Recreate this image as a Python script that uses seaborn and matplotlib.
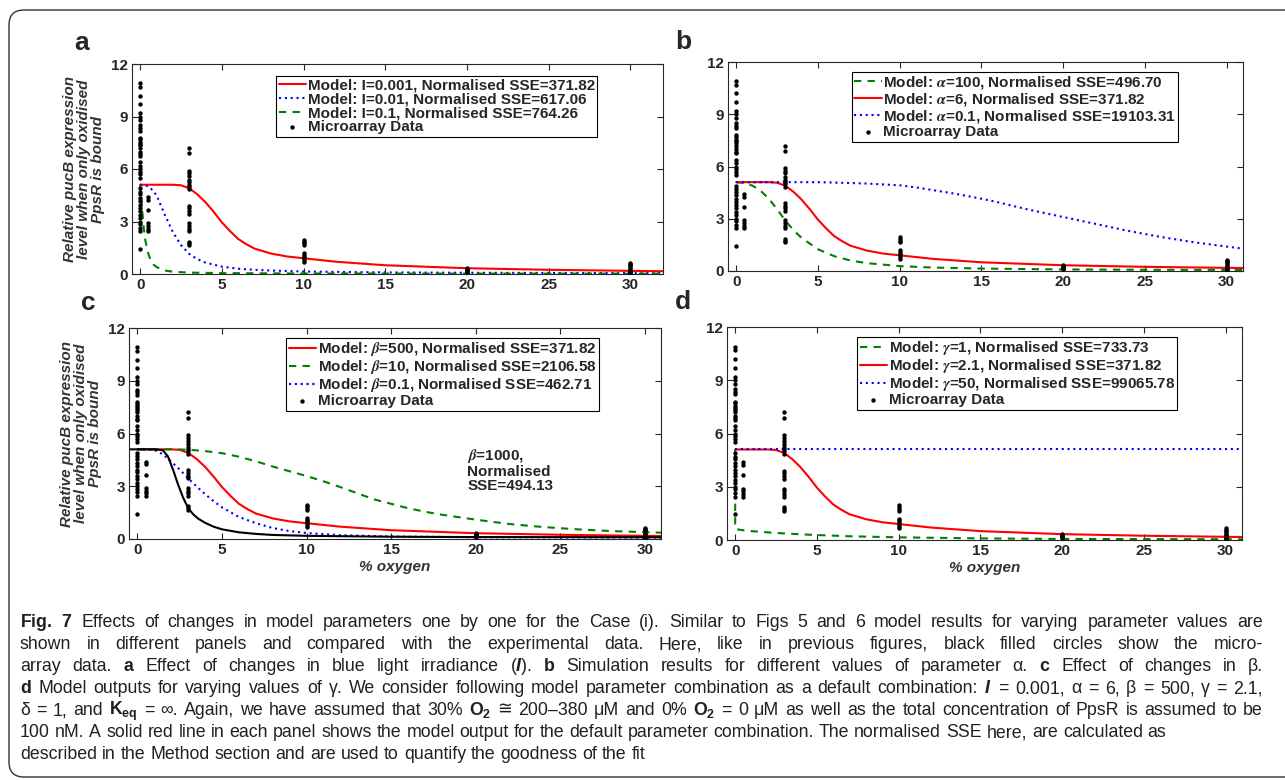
import matplotlib
matplotlib.use('Agg')
import matplotlib.pyplot as plt
import seaborn as sns
from matplotlib.font_manager import FontProperties
from matplotlib.patches import FancyBboxPatch
from matplotlib.transforms import IdentityTransform

# ---- microarray data (% oxygen -> relative pucB expression) ----
data_o0 = [10.9, 10.7, 10.2, 9.7, 9.2, 9.0, 8.8, 8.5, 8.35, 8.2, 7.8, 7.7, 7.55, 7.45, 7.35,
           7.2, 7.0, 6.85, 6.75, 6.4, 6.2, 6.0, 5.85, 5.7, 5.5, 4.9, 4.7, 4.55, 4.35, 4.15,
           3.95, 3.8, 3.6, 3.4, 3.2, 3.0, 2.85, 2.65, 2.45, 1.45]
data_o05 = [4.4, 4.25, 3.65, 2.9, 2.75, 2.6, 2.45]
data_o3 = [7.2, 6.9, 5.9, 5.75, 5.6, 5.4, 5.25, 5.1, 5.0, 4.85, 3.9, 3.75, 3.6, 3.45,
           2.9, 2.75, 2.6, 2.45, 1.85, 1.75, 1.65]
data_o10 = [1.95, 1.85, 1.75, 1.65, 1.2, 1.1, 1.0, 0.9, 0.8, 0.7]
data_o20 = [0.35, 0.3, 0.25, 0.2, 0.15, 0.1]
data_o30 = [0.65, 0.55, 0.5, 0.45, 0.35, 0.3, 0.2, 0.15, 0.1, 0.05, 0.0]

# ---- model curves ----
# default combination (red, shared by every panel)
red_x = [0, 1, 2, 2.5, 3, 3.5, 4, 4.5, 5, 5.5, 6, 6.5, 7, 8, 9, 10, 12, 15, 20, 25, 30, 32]
red_y = [5.1, 5.1, 5.1, 5.07, 4.9, 4.55, 4.1, 3.55, 2.95, 2.45, 2.0, 1.7, 1.45, 1.17, 1.0,
         0.9, 0.7, 0.5, 0.33, 0.24, 0.18, 0.16]

# panel a: I
a_blue_x = [0, 0.3, 0.6, 1.0, 1.5, 2.0, 2.5, 3, 3.5, 4, 5, 6, 7, 8, 10, 15, 20, 30, 32]
a_blue_y = [5.1, 5.08, 4.95, 4.5, 3.4, 2.4, 1.65, 1.15, 0.85, 0.65, 0.42, 0.3, 0.24, 0.2,
            0.14, 0.09, 0.07, 0.05, 0.05]
a_green_x = [0, 0.05, 0.1, 0.2, 0.3, 0.45, 0.6, 0.8, 1.0, 1.5, 2, 3, 5, 10, 20, 32]
a_green_y = [5.1, 4.6, 3.9, 2.8, 2.0, 1.3, 0.9, 0.55, 0.4, 0.2, 0.13, 0.08, 0.05, 0.03,
             0.02, 0.02]

# panel b: alpha
b_green_x = [0, 0.5, 1, 1.5, 2, 2.5, 3, 3.5, 4, 5, 6, 7, 8, 10, 12, 15, 20, 25, 31]
b_green_y = [5.1, 5.05, 4.9, 4.6, 4.15, 3.55, 2.9, 2.35, 1.9, 1.25, 0.85, 0.6, 0.45, 0.28,
             0.2, 0.14, 0.09, 0.07, 0.06]
b_blue_x = [0, 3, 5, 7, 8, 9, 10, 11, 12, 13, 14, 15, 16, 17, 18, 19, 20, 22, 24, 26, 28, 31]
b_blue_y = [5.1, 5.1, 5.1, 5.05, 5.02, 4.97, 4.92, 4.8, 4.65, 4.5, 4.33, 4.15, 3.95, 3.72,
            3.5, 3.3, 3.1, 2.7, 2.3, 1.95, 1.65, 1.28]

# panel c: beta
c_green_x = [0, 2, 3, 4, 5, 6, 7, 8, 9, 10, 11, 12, 13, 14, 15, 16, 17, 18, 20, 22, 24,
             26, 28, 31]
c_green_y = [5.1, 5.1, 5.08, 5.0, 4.88, 4.68, 4.42, 4.12, 3.85, 3.58, 3.28, 2.95, 2.6,
             2.25, 2.0, 1.75, 1.55, 1.38, 1.1, 0.85, 0.68, 0.55, 0.45, 0.36]
c_blue_x = [0, 0.5, 1, 1.5, 2, 2.5, 3, 3.5, 4, 4.5, 5, 6, 7, 8, 9, 10, 12, 15, 20, 31]
c_blue_y = [5.1, 5.1, 5.06, 4.82, 4.4, 3.95, 3.45, 2.98, 2.55, 2.15, 1.8, 1.25, 0.9, 0.62,
            0.45, 0.34, 0.22, 0.14, 0.1, 0.08]
c_black_x = [-0.5, 0, 1, 1.5, 1.8, 2.1, 2.4, 2.7, 3, 3.3, 3.6, 4, 4.5, 5, 6, 7, 8, 10, 15,
             20, 31]
c_black_y = [5.1, 5.1, 5.1, 5.05, 4.7, 3.95, 3.1, 2.35, 1.75, 1.4, 1.15, 0.92, 0.7, 0.55,
             0.38, 0.29, 0.23, 0.18, 0.13, 0.11, 0.1]

# panel d: gamma
d_green_x = [0, 0, 0.1, 0.5, 1, 2, 3, 4, 5, 7, 10, 15, 20, 25, 31]
d_green_y = [5.1, 0.65, 0.6, 0.55, 0.5, 0.43, 0.37, 0.32, 0.28, 0.21, 0.15, 0.09, 0.06,
             0.05, 0.04]
d_blue_x = [0, 31]
d_blue_y = [5.1, 5.1]

# caption, one entry per printed line (first five are justified)
caption_lines = [
    r"$\mathbf{Fig.}$ $\mathbf{7}$ Effects of changes in model parameters one by one for the "
    r"Case (i). Similar to Figs 5 and 6 model results for varying parameter values are",
    "shown in different panels and compared with the experimental data. Here, like in previous "
    "figures, black filled circles show the micro-",
    r"array data. $\mathbf{a}$ Effect of changes in blue light irradiance ($\mathit{I}$). "
    r"$\mathbf{b}$ Simulation results for different values of parameter α. $\mathbf{c}$ "
    r"Effect of changes in β.",
    r"$\mathbf{d}$ Model outputs for varying values of γ. We consider following model parameter "
    r"combination as a default combination: $\mathit{I}$ = 0.001, α = 6, β = 500, γ = 2.1,",
    r"δ = 1, and $\mathrm{K}_{\mathrm{eq}}$ = ∞. Again, we have assumed that 30% "
    r"$\mathrm{O}_{2}$ ≅ 200–380 μM and 0% $\mathrm{O}_{2}$ = 0 μM as well as the total "
    r"concentration of PpsR is assumed to be",
    "100 nM. A solid red line in each panel shows the model output for the default parameter "
    "combination. The normalised SSE here, are calculated as",
    "described in the Method section and are used to quantify the goodness of the fit",
]

RED, BLUE, GREEN, BLACK = '#ff0000', '#0000ff', '#008000', '#000000'
SOLID, DOT, DASH = '-', (0, (1, 1.8)), (0, (3.5, 3))
INK = '#262626'
W, H = 1285, 780

sns.set_style('ticks')
plt.rcParams['font.family'] = ['Liberation Sans', 'DejaVu Sans']
plt.rcParams['font.weight'] = 'bold'
plt.rcParams['mathtext.fontset'] = 'custom'
plt.rcParams['mathtext.rm'] = 'Liberation Sans'
plt.rcParams['mathtext.bf'] = 'Liberation Sans:bold'
plt.rcParams['mathtext.it'] = 'Liberation Sans:italic'

label_font = FontProperties(family='Liberation Sans', weight='bold', size=11,
                            math_fontfamily='stix')

fig = plt.figure(figsize=(W / 100, H / 100), dpi=100)


def px_axes(left, top, right, bottom):
    return fig.add_axes([left / W, 1 - bottom / H, (right - left) / W, (bottom - top) / H])


def draw_panel(ax, curves, xmax, anchor, letter, letter_xy, ylabel=False, xlabel=False,
               extra=()):
    for xs, ys, color, ls, lab in curves:
        sns.lineplot(x=xs, y=ys, ax=ax, color=color, linestyle=ls, linewidth=1.5,
                     label=lab, sort=False, estimator=None, legend=False)
    for xs, ys, color in extra:
        sns.lineplot(x=xs, y=ys, ax=ax, color=color, linewidth=1.5,
                     sort=False, estimator=None, legend=False)
    micro_x = ([0] * len(data_o0) + [0.5] * len(data_o05) + [3] * len(data_o3)
               + [10] * len(data_o10) + [20] * len(data_o20) + [30] * len(data_o30))
    micro_y = data_o0 + data_o05 + data_o3 + data_o10 + data_o20 + data_o30
    sns.scatterplot(x=micro_x, y=micro_y, ax=ax, color='k', s=10, linewidth=0,
                    label='Microarray Data', zorder=3, legend=False)

    ax.set_xlim(-0.5, xmax)
    ax.set_ylim(0, 12)
    ax.set_xticks([0, 5, 10, 15, 20, 25, 30])
    ax.set_yticks([0, 3, 6, 9, 12])
    ax.tick_params(direction='in', top=True, right=True, length=4, width=0.8,
                   color=INK, labelcolor=INK, labelsize=11, pad=3)
    for sp in ax.spines.values():
        sp.set_color(INK)
        sp.set_linewidth(0.8)

    handles, labels = ax.get_legend_handles_labels()
    leg = ax.legend(handles, labels, loc='upper right', bbox_to_anchor=anchor,
                    borderaxespad=0, prop=label_font, fancybox=False, framealpha=1,
                    handlelength=1.8, handletextpad=0.1, borderpad=0.15,
                    labelspacing=0.0)
    leg.get_frame().set_edgecolor('k')
    leg.get_frame().set_linewidth(0.8)

    if ylabel:
        ax.set_ylabel('Relative pucB expression\nlevel when only oxidised\nPpsR is bound',
                      fontsize=11, fontstyle='italic', fontweight='bold', color='#333333',
                      labelpad=4, linespacing=1.0)
    else:
        ax.set_ylabel('')
    if xlabel:
        ax.set_xlabel('% oxygen', fontsize=11, fontstyle='italic', fontweight='bold',
                      color='#333333', labelpad=2)
    fig.text(letter_xy[0] / W, 1 - letter_xy[1] / H, letter, fontsize=19,
             fontweight='bold', ha='center', va='center')


ax_a = px_axes(132, 64, 663, 274)
draw_panel(ax_a, [
    (red_x, red_y, RED, SOLID, 'Model: I=0.001, Normalised SSE=371.82'),
    (a_blue_x, a_blue_y, BLUE, DOT, 'Model: I=0.01, Normalised SSE=617.06'),
    (a_green_x, a_green_y, GREEN, DASH, 'Model: I=0.1, Normalised SSE=764.26'),
], 32.0, (0.876, 0.943), 'a', (82, 43), ylabel=True)

ax_b = px_axes(728, 62, 1243, 271)
draw_panel(ax_b, [
    (b_green_x, b_green_y, GREEN, DASH, r'Model: $\alpha$=100, Normalised SSE=496.70'),
    (red_x, red_y, RED, SOLID, r'Model: $\alpha$=6, Normalised SSE=371.82'),
    (b_blue_x, b_blue_y, BLUE, DOT, r'Model: $\alpha$=0.1, Normalised SSE=19103.31'),
], 31.0, (0.874, 0.952), 'b', (683, 42))

ax_c = px_axes(129, 328, 661, 539)
# the beta=1000 curve is annotated in place instead of in the legend
draw_panel(ax_c, [
    (red_x, red_y, RED, SOLID, r'Model: $\beta$=500, Normalised SSE=371.82'),
    (c_green_x, c_green_y, GREEN, DASH, r'Model: $\beta$=10, Normalised SSE=2106.58'),
    (c_blue_x, c_blue_y, BLUE, DOT, r'Model: $\beta$=0.1, Normalised SSE=462.71'),
], 30.95, (0.883, 0.953), 'c', (88, 303), ylabel=True, xlabel=True,
    extra=[(c_black_x, c_black_y, BLACK)])
ax_c.text(19.5, 5.25, '$\\beta$=1000,\nNormalised\nSSE=494.13', fontproperties=label_font,
          va='top', ha='left', linespacing=1.0)

ax_d = px_axes(727, 327, 1242, 540)
draw_panel(ax_d, [
    (d_green_x, d_green_y, GREEN, DASH, r'Model: $\gamma$=1, Normalised SSE=733.73'),
    (red_x, red_y, RED, SOLID, r'Model: $\gamma$=2.1, Normalised SSE=371.82'),
    (d_blue_x, d_blue_y, BLUE, DOT, r'Model: $\gamma$=50, Normalised SSE=99065.78'),
], 31.0, (0.874, 0.953), 'd', (683, 302), xlabel=True)

# caption: words placed one by one so the first lines can be justified
renderer = fig.canvas.get_renderer()
cap_size = 12.8
space_px = cap_size * 100 / 72 * 0.278
for i, line in enumerate(caption_lines):
    y = 1 - (627 + 22 * i) / H
    words = []
    for w in line.split(' '):
        fam = ['Liberation Sans', 'DejaVu Sans'] if w == '≅' else 'Liberation Sans'
        words.append(fig.text(0, y, w, fontsize=cap_size, fontweight='normal',
                              family=fam, color='#231f20', va='baseline', ha='left'))
    widths = [t.get_window_extent(renderer).width for t in words]
    gap = (1243 - sum(widths)) / (len(words) - 1) if i < 5 else space_px
    x = 20
    for t, w in zip(words, widths):
        t.set_x(x / W)
        x += w + gap

# rounded frame around the whole figure (right edge runs off the canvas)
frame = FancyBboxPatch((9, 3), 1400, 767, boxstyle='round,pad=0,rounding_size=15',
                       transform=IdentityTransform(), fill=False, linewidth=1,
                       edgecolor='#333333')
fig.add_artist(frame)

fig.savefig('out.png', dpi=100)
